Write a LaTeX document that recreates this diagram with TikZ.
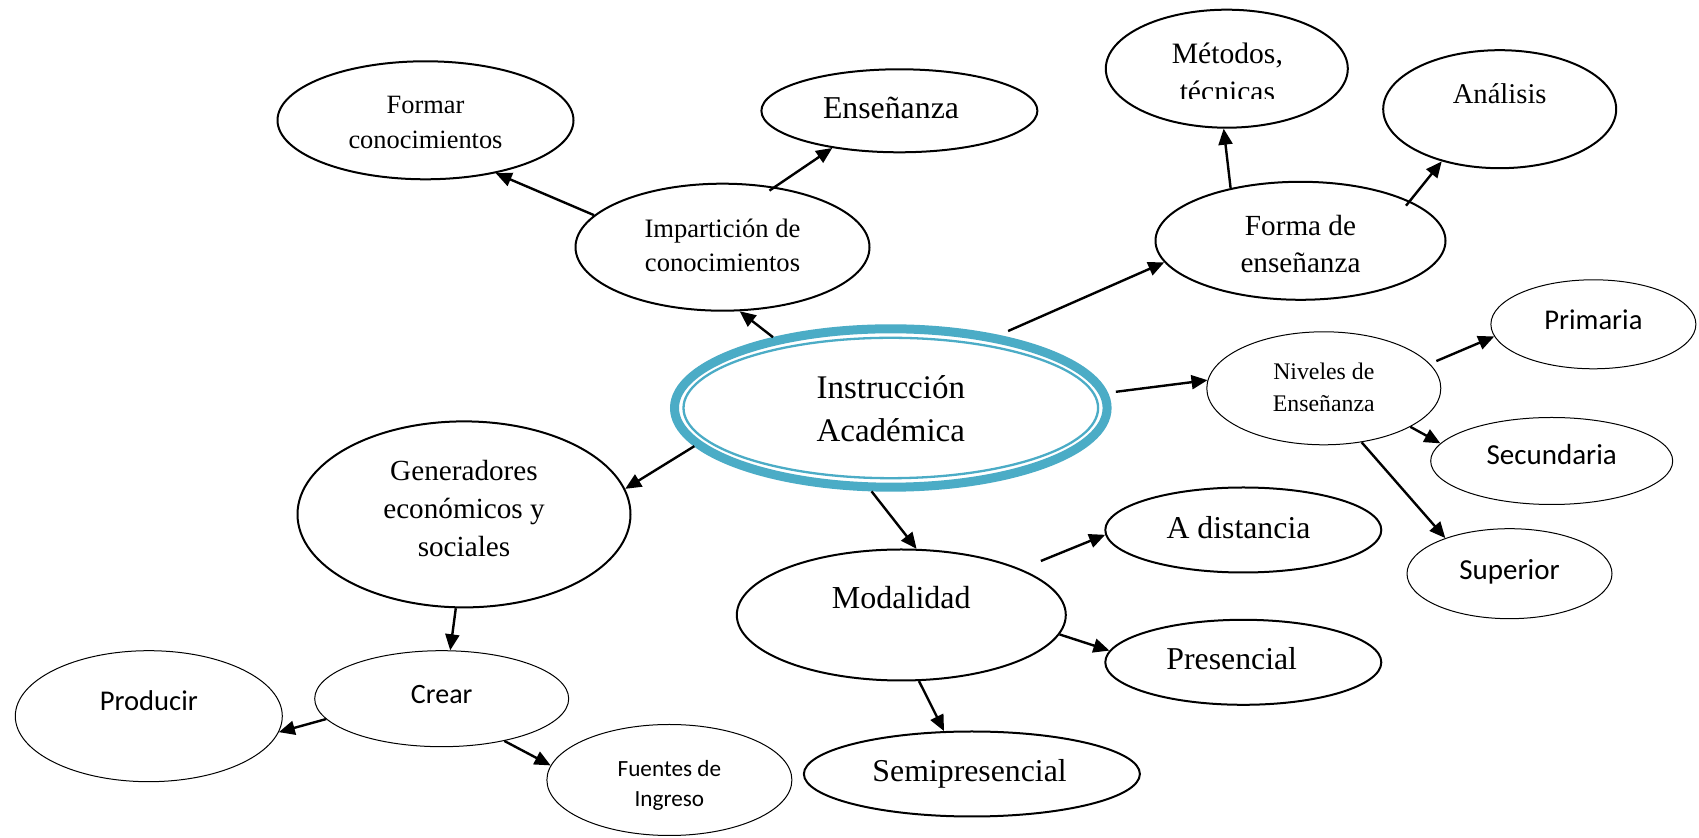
\documentclass[tikz,border=0pt]{standalone}
\usepackage{fontspec}
\setmainfont{Liberation Serif}
\newfontfamily\calibri{Carlito}
\usetikzlibrary{shapes.geometric,arrows.meta}
\definecolor{tealA}{RGB}{75,172,198}
% #1 = horizontal shift (doubled), #2 = raise of first baseline, #3 = lines
\newcommand\lbl[3]{\makebox[0pt]{\hspace*{#1}\raisebox{#2}[0pt][0pt]{\begin{tabular}[t]{@{}c@{}}#3\end{tabular}}}}
\newcommand\fs[2]{\fontsize{#1}{#2}\selectfont}
\tikzset{
  el/.style={ellipse, draw, line width=1pt, inner sep=0pt},
  elthin/.style={ellipse, draw, line width=0.5pt, inner sep=0pt},
  arr/.style={-{Triangle[length=8pt,width=7pt]}, line width=1.2pt},
}
\begin{document}
\begin{tikzpicture}[x=0.5pt,y=-0.5pt]
\useasboundingbox[fill=white] (0,0) rectangle (1699,838);

% central node
\node[ellipse, draw=tealA, line width=4.5pt, inner sep=0pt, minimum width=216.3pt, minimum height=79.2pt,
      font=\fs{16.5pt}{21.7pt}] (instr) at (890.8,408) {\lbl{0pt}{4.85pt}{Instrucción\\Académica}};
\draw[tealA, line width=1.15pt] (instr.center) ellipse [x radius=103.65pt, y radius=35.1pt];

% upper left
\node[el, minimum width=148pt, minimum height=59pt, font=\fs{13.2pt}{17.5pt}] (formar) at (425.5,120.3)
  {\lbl{0pt}{3.5pt}{Formar\\conocimientos}};
\node[el, minimum width=147pt, minimum height=63.5pt, font=\fs{13.3pt}{17.2pt}] (imp) at (722.5,247.2)
  {\lbl{0pt}{5pt}{Impartición de\\conocimientos}};
\node[el, minimum width=138pt, minimum height=41.5pt, font=\fs{15.9pt}{19pt}] (ense) at (899.4,110.8)
  {\lbl{-8.4pt}{-3.75pt}{Enseñanza}};

% upper right
\node[el, minimum width=121pt, minimum height=59pt, font=\fs{14.8pt}{18pt}] (metodos) at (1226.8,68.7)
  {\lbl{0.6pt}{2.35pt}{Métodos,}};
\begin{scope}
  \clip (1100,0) rectangle (1350,99);
  \node[anchor=base, inner sep=0pt, font=\fs{14.8pt}{18pt}] (tecnicas) at (1227.4,102) {técnicas};
\end{scope}
\node[el, minimum width=116.5pt, minimum height=59pt, font=\fs{14.3pt}{17pt}] (analisis) at (1499.7,109.2)
  {\lbl{0pt}{2.6pt}{Análisis}};
\node[el, minimum width=145pt, minimum height=59pt, font=\fs{14.6pt}{18.1pt}] (forma) at (1300.5,240.8)
  {\lbl{0pt}{2.4pt}{Forma de\\enseñanza}};

% right: levels
\node[elthin, minimum width=117pt, minimum height=56.5pt, font=\fs{11.9pt}{15.9pt}] (niveles) at (1323.8,388.3)
  {\lbl{0pt}{4.15pt}{Niveles de\\Enseñanza}};
\node[elthin, minimum width=102.5pt, minimum height=44.5pt, font=\calibri\fs{14.3pt}{17pt}] (primaria) at (1593.4,324.3)
  {\lbl{0pt}{-2.85pt}{Primaria}};
\node[elthin, minimum width=121pt, minimum height=43.5pt, font=\calibri\fs{14.5pt}{17pt}] (secundaria) at (1551.7,461)
  {\lbl{0pt}{-2pt}{Secundaria}};
\node[elthin, minimum width=102.5pt, minimum height=45pt, font=\calibri\fs{14.5pt}{17pt}] (superior) at (1509.5,573.7)
  {\lbl{0pt}{-2.8pt}{Superior}};

% lower middle: modality
\node[el, minimum width=164.5pt, minimum height=65.5pt, font=\fs{16pt}{19pt}] (modal) at (901.3,615)
  {\lbl{0pt}{3.35pt}{Modalidad}};
\node[el, minimum width=138pt, minimum height=42.5pt, font=\fs{15.9pt}{19pt}] (adist) at (1243.3,530)
  {\lbl{-4.8pt}{-4.15pt}{A distancia}};
\node[el, minimum width=138pt, minimum height=42.5pt, font=\fs{15.9pt}{19pt}] (presen) at (1243.3,662.3)
  {\lbl{-11.6pt}{-3.85pt}{Presencial}};
\node[el, minimum width=168pt, minimum height=42.5pt, font=\fs{15.9pt}{19pt}] (semi) at (971.9,774)
  {\lbl{-2.3pt}{-3.85pt}{Semipresencial}};

% lower left
\node[el, minimum width=166.5pt, minimum height=93pt, font=\fs{14.6pt}{19pt}] (gen) at (464,514.4)
  {\lbl{0pt}{16.85pt}{Generadores\\económicos y\\sociales}};
\node[elthin, minimum width=127pt, minimum height=48pt, font=\calibri\fs{14pt}{17pt}] (crear) at (441.7,698.7)
  {\lbl{0pt}{-2.3pt}{Crear}};
\node[elthin, minimum width=133.5pt, minimum height=65.5pt, font=\calibri\fs{14.3pt}{17pt}] (producir) at (148.8,716.2)
  {\lbl{0pt}{2.75pt}{Producir}};
\node[elthin, minimum width=122.5pt, minimum height=55.5pt, font=\calibri\fs{11.6pt}{15pt}] (fuentes) at (669.4,780)
  {\lbl{0pt}{1.65pt}{Fuentes de\\Ingreso}};

% connectors
\draw[arr] (imp.166.3) -- (formar.-37.2);
\draw[arr, shorten <=-3.3pt] (imp.49.2) -- (ense.-151.8);
\draw[arr] (instr.149.7) -- (imp.-75.4);
\draw[arr, shorten <=5pt] (instr.34.55) -- (forma.189.1);
\draw[arr] (forma.143.4) -- (metodos.-93);
\draw[arr, shorten <=-3pt] (forma.20) -- (analisis.222.2);
\draw[arr, shorten <=4pt] (instr.4.4) -- (niveles.176.8);
\draw[arr, shorten <=3.5pt] (niveles.13.4) -- (primaria.187.5);
\draw[arr] (niveles.-24.9) -- (secundaria.171.4);
\draw[arr] (niveles.-55.1) -- (superior.151.2);
\draw[arr] (instr.191.1) -- (gen.9.7);
\draw[arr] (gen.-95.5) -- (crear.80.6);
\draw[arr] (crear.190.6) -- (producir.-7.6);
\draw[arr] (crear.-34) -- (fuentes.173.5);
\draw[arr] (instr.-103.6) -- (modal.77.8);
\draw[arr, shorten <=10.75pt] (modal.21.1) -- (adist.182.7);
\draw[arr] (modal.-7.5) -- (presen.175);
\draw[arr] (modal.-75.1) -- (semi.123.8);
\end{tikzpicture}
\end{document}
